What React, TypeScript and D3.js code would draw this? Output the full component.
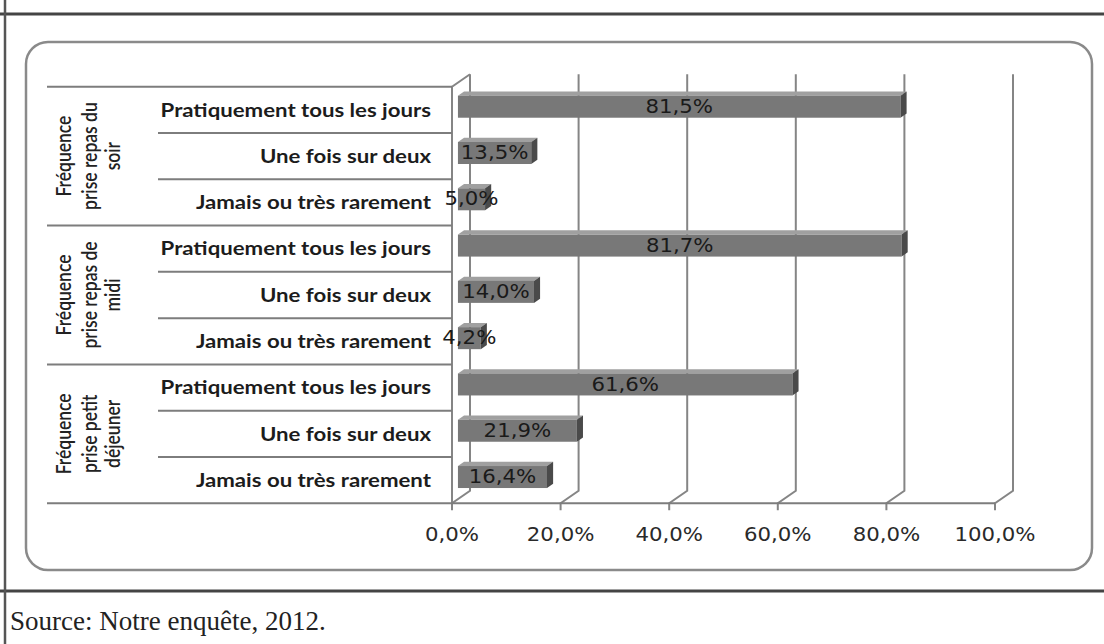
import React, { useEffect, useRef } from 'react';
import * as d3 from 'd3';

// categories / values
const groupLines = [
  ['Fréquence', 'prise repas du', 'soir'],
  ['Fréquence', 'prise repas de', 'midi'],
  ['Fréquence', 'prise petit', 'déjeuner'],
];
const categories = ['Pratiquement tous les jours', 'Une fois sur deux', 'Jamais ou très rarement'];
const soirValues = [81.5, 13.5, 5.0];
const midiValues = [81.7, 14.0, 4.2];
const petitDejValues = [61.6, 21.9, 16.4];
const xTicks = [0, 20, 40, 60, 80, 100];
const sourceText = 'Source: Notre enquête, 2012.';

const fmt = (v: number) => v.toFixed(1).replace('.', ',') + '%';

export default function App() {
  const svgRef = useRef<SVGSVGElement>(null);

  useEffect(() => {
    const width = 1104;
    const height = 644;
    const svg = d3.select(svgRef.current).attr('width', width).attr('height', height);
    svg.selectAll('*').remove();

    const allValues = [soirValues, midiValues, petitDejValues];
    const rows = allValues.flatMap((vals, g) =>
      vals.map((v, i) => ({ id: `${g}-${i}`, group: g, cat: categories[i], value: v }))
    );

    // front plane of the 3d plot
    const x = d3.scaleLinear().domain([0, 100]).range([452, 995]);
    const y = d3.scaleBand().domain(rows.map(r => r.id)).range([86.7, 503.3]).padding(0);
    const DX = 18;
    const DY = -12.5;
    const top = y.range()[0];
    const bottom = y.range()[1];

    svg.append('rect').attr('width', width).attr('height', height).attr('fill', '#fff');

    // page frame
    svg.append('line').attr('x1', 0).attr('x2', width).attr('y1', 14).attr('y2', 14)
      .attr('stroke', '#444').attr('stroke-width', 3);
    svg.append('line').attr('x1', 0).attr('x2', width).attr('y1', 591).attr('y2', 591)
      .attr('stroke', '#444').attr('stroke-width', 3);
    svg.append('line').attr('x1', 5).attr('x2', 5).attr('y1', 0).attr('y2', height)
      .attr('stroke', '#555').attr('stroke-width', 2.5);

    // rounded chart area
    svg.append('rect').attr('x', 26).attr('y', 42).attr('width', 1066).attr('height', 528)
      .attr('rx', 22).attr('fill', '#fff').attr('stroke', '#8a8a8a').attr('stroke-width', 2.5);

    const grid = svg.append('g').attr('stroke', '#858585').attr('stroke-width', 2).attr('fill', 'none');

    // back wall gridlines + floor slants + ticks
    xTicks.forEach(t => {
      const xf = x(t);
      grid.append('path')
        .attr('d', `M${xf},${bottom + 7} L${xf},${bottom} L${xf + DX},${bottom + DY} L${xf + DX},${top + DY}`);
    });

    // left wall edge
    grid.append('path').attr('d', `M${x(0)},${bottom} L${x(0)},${top} L${x(0) + DX},${top + DY}`);

    // category table lines
    const table = svg.append('g').attr('stroke', '#7d7d7d').attr('stroke-width', 2);
    table.append('line').attr('x1', 47).attr('x2', x(0)).attr('y1', top).attr('y2', top);
    table.append('line').attr('x1', 47).attr('x2', x(100)).attr('y1', bottom).attr('y2', bottom);
    rows.forEach((r, i) => {
      if (i === 0) return;
      const yy = y(r.id)!;
      table.append('line')
        .attr('x1', r.cat === categories[0] ? 47 : 158)
        .attr('x2', x(0))
        .attr('y1', yy).attr('y2', yy);
    });

    // category labels (wide bold face, stretched like the source)
    svg.append('g').selectAll('text').data(rows).enter().append('text')
      .attr('transform', d => `translate(431,${y(d.id)! + y.bandwidth() / 2 + 2}) scale(1.2,1)`)
      .attr('text-anchor', 'end')
      .attr('dominant-baseline', 'middle')
      .style('font-family', 'Lato, sans-serif')
      .style('font-weight', 700)
      .style('font-size', '18.5px')
      .style('fill', '#1c1c1c')
      .text(d => d.cat);

    // rotated group labels
    const lineX = [66, 92, 115];
    groupLines.forEach((lines, g) => {
      const gy = (y(`${g}-0`)! + y(`${g}-2`)! + y.bandwidth()) / 2;
      lines.forEach((txt, li) => {
        svg.append('text')
          .attr('transform', `translate(${lineX[li]},${gy}) scale(1.2,1) rotate(-90)`)
          .attr('text-anchor', 'middle')
          .attr('dominant-baseline', 'middle')
          .style('font-family', 'Lato, sans-serif')
          .style('font-weight', 600)
          .style('font-size', '17.5px')
          .style('fill', '#222')
          .text(txt);
      });
    });

    // 3d bars
    const f0 = 0.33;
    const f1 = 0.67;
    const barH = 22;
    const bars = svg.append('g');
    rows.forEach(r => {
      const cy = y(r.id)! + y.bandwidth() / 2 + f0 * DY + 1;
      const x0 = x(0) + f0 * DX;
      const x1 = x(r.value) + f0 * DX;
      const y0 = cy - barH / 2;
      const y1 = cy + barH / 2;
      const ddx = (f1 - f0) * DX;
      const ddy = (f1 - f0) * DY;
      bars.append('path')
        .attr('d', `M${x0},${y0} L${x1},${y0} L${x1 + ddx},${y0 + ddy} L${x0 + ddx},${y0 + ddy}Z`)
        .attr('fill', '#a0a0a0');
      bars.append('rect')
        .attr('x', x0).attr('y', y0).attr('width', x1 - x0).attr('height', barH)
        .attr('fill', '#787878');
      bars.append('path')
        .attr('d', `M${x1},${y0} L${x1 + ddx},${y0 + ddy} L${x1 + ddx},${y1 + ddy} L${x1},${y1}Z`)
        .attr('fill', '#4a4a4a');
      bars.append('text')
        .attr('transform', `translate(${(x0 + x1) / 2},${cy + 1}) scale(1.12,1)`)
        .attr('text-anchor', 'middle')
        .attr('dominant-baseline', 'middle')
        .style('font-family', '"DejaVu Sans", sans-serif')
        .style('font-size', '19px')
        .style('fill', '#1a1a1a')
        .text(fmt(r.value));
    });

    // x axis labels
    svg.append('g').selectAll('text').data(xTicks).enter().append('text')
      .attr('transform', d => `translate(${x(d)},536) scale(1.12,1)`)
      .attr('text-anchor', 'middle')
      .attr('dominant-baseline', 'middle')
      .style('font-family', '"DejaVu Sans", sans-serif')
      .style('font-size', '19px')
      .style('fill', '#2a2a2a')
      .text(d => fmt(d));

    // source line
    svg.append('text')
      .attr('x', 10).attr('y', 630)
      .style('font-family', '"Liberation Serif", serif')
      .style('font-size', '27px')
      .style('fill', '#222')
      .text(sourceText);
  }, []);

  return (
    <div style={{ position: 'absolute', left: 0, top: 0 }}>
      <svg ref={svgRef} style={{ display: 'block' }} />
    </div>
  );
}
